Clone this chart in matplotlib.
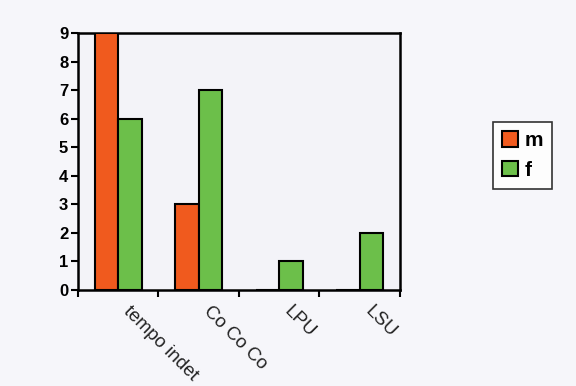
import numpy as np
import matplotlib.pyplot as plt

plt.rcParams['font.family'] = ['Liberation Sans', 'DejaVu Sans']

categories = ['tempo indet', 'Co Co Co', 'LPU', 'LSU']
m_vals = [9, 3, 0, 0]
f_vals = [6, 7, 1, 2]

orange = '#f05a1e'
green = '#6cbf4a'
bg = '#f6f6fa'

fig = plt.figure(figsize=(5.76, 3.86), dpi=100, facecolor=bg)
ax = fig.add_axes([0.1354, 0.249, 0.5590, 0.6655], facecolor='#f3f3f8')

centers = np.arange(len(categories)) + 0.5
w = 0.29
ax.bar(centers - w, m_vals, width=w, align='edge', color=orange,
       edgecolor='black', linewidth=1.5, label='m', zorder=3)
ax.bar(centers, f_vals, width=w, align='edge', color=green,
       edgecolor='black', linewidth=1.5, label='f', zorder=3)

ax.set_xlim(0, 4)
ax.set_ylim(0, 9)
ax.set_yticks(range(10))
ax.set_yticklabels([str(i) for i in range(10)], fontweight='bold', fontsize=12)
ax.set_xticks(range(5))
ax.set_xticklabels([])
ax.tick_params(axis='both', direction='out', width=1.5, length=5, color='black')
ax.tick_params(axis='y', pad=2)

for c, lab in zip(centers, categories):
    ax.text(c + 0.17, -0.45, lab, rotation=-45, rotation_mode='anchor',
            ha='left', va='top', fontsize=13.5, color='#222222')

for s in ax.spines.values():
    s.set_linewidth(1.8)
    s.set_color('black')

leg = fig.legend(loc='upper left', bbox_to_anchor=(0.856, 0.684),
                 borderaxespad=0, frameon=True, fancybox=False,
                 edgecolor='black', handlelength=0.75, handleheight=0.75,
                 handletextpad=0.3, borderpad=0.45, labelspacing=0.5,
                 facecolor='white', prop={'weight': 'bold', 'size': 15})
leg.get_frame().set_linewidth(1.2)

fig.savefig('out.png', dpi=100, facecolor=bg)
